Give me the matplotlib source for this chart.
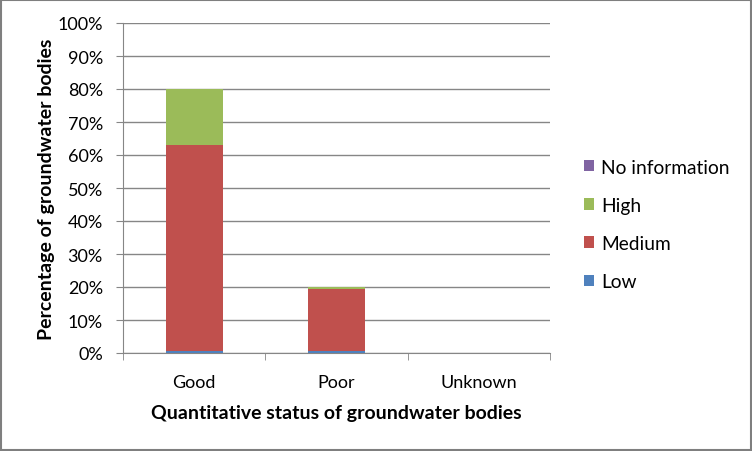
import matplotlib
matplotlib.use("Agg")
import matplotlib.pyplot as plt
import numpy as np
from matplotlib.patches import Rectangle

categories = ["Good", "Poor", "Unknown"]
low = [0.5, 0.5, 0.0]
medium = [62.5, 19.0, 0.0]
high = [17.0, 0.5, 0.0]
no_info = [0.0, 0.0, 0.0]
series_names = ["Low", "Medium", "High", "No information"]
colors = ["#4F81BD", "#C0504D", "#9BBB59", "#8064A2"]
yticks = list(range(0, 101, 10))

plt.rcParams['font.family'] = ['Lato', 'DejaVu Sans']

fig = plt.figure(figsize=(7.52, 4.52), dpi=100)
ax = fig.add_axes([123/752, 1-354/452, (550-123)/752, (354-24)/452])

x = np.arange(len(categories))
bottom = np.zeros(len(categories))
handles = []
for vals, name, c in zip([low, medium, high, no_info], series_names, colors):
    h = ax.bar(x, vals, width=0.4, bottom=bottom, color=c, label=name, zorder=3)
    handles.append(h)
    bottom += np.array(vals)

ax.set_xlim(-0.5, len(categories) - 0.5)
ax.set_ylim(0, 100)
ax.set_yticks(yticks)
ax.set_yticklabels([f"{v}%" for v in yticks], fontsize=13)
ax.yaxis.grid(True, color="#868686", linewidth=1, zorder=0)
ax.set_axisbelow(True)

ax.set_xticks(x)
ax.set_xticklabels(categories, fontsize=13)
ax.tick_params(axis='x', length=0, pad=15)
ax.set_xticks(np.arange(-0.5, len(categories), 1), minor=True)
ax.tick_params(axis='x', which='minor', length=5, color="#868686", direction='out')
ax.tick_params(axis='y', length=5, color="#868686", direction='out', pad=9.5)

for s in ['top', 'right']:
    ax.spines[s].set_visible(False)
for s in ['left', 'bottom']:
    ax.spines[s].set_color("#868686")

ax.set_xlabel("Quantitative status of groundwater bodies", fontsize=14, fontweight='bold', labelpad=10)
ax.set_ylabel("Percentage of groundwater bodies", fontsize=14, fontweight='bold', labelpad=2)

leg = ax.legend(handles[::-1], series_names[::-1], loc='center left', bbox_to_anchor=(1.08, 0.39),
                frameon=False, fontsize=13.8, handlelength=0.52, handleheight=0.52, labelspacing=1.1,
                handletextpad=0.36, borderpad=0, borderaxespad=0)

fig.patches.append(Rectangle((1/752, 1/452), 1-2/752, 1-2/452, transform=fig.transFigure,
                             fill=False, edgecolor="#7F7F7F", linewidth=1.5))

fig.savefig("out.png", dpi=100)
